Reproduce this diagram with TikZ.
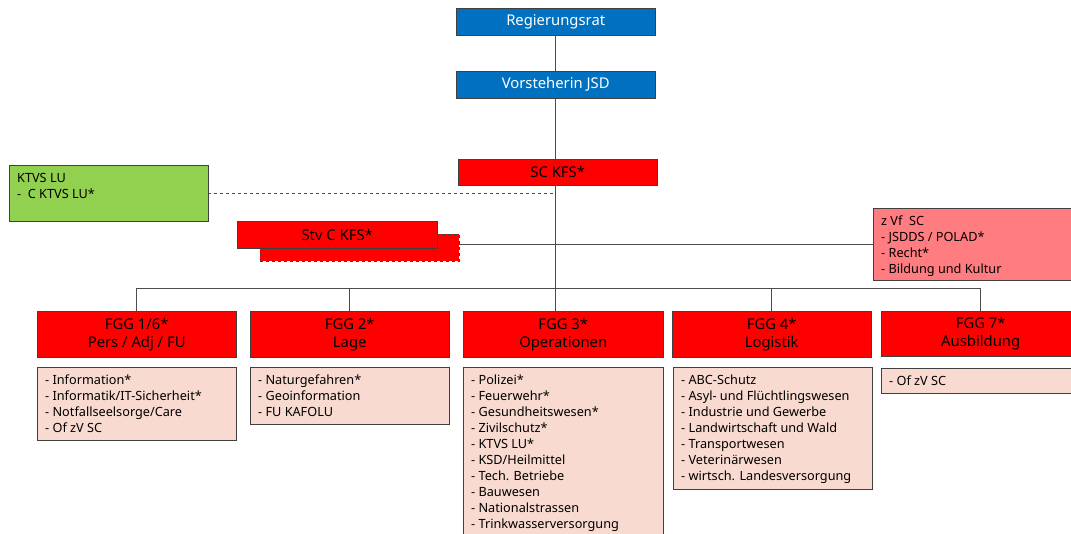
\documentclass[tikz,border=0pt]{standalone}
\usepackage{fontspec}
\setmainfont{Noto Sans}
\usepackage{tikz}
\usetikzlibrary{calc,shapes}
\definecolor{jsdblue}{HTML}{0070C0}
\definecolor{kfsred}{HTML}{FF0000}
\definecolor{ktvsgreen}{HTML}{92D050}
\definecolor{zvfpink}{HTML}{FF7C80}
\definecolor{listpink}{HTML}{F8DAD0}
\definecolor{framegray}{HTML}{404040}
\tikzstyle{headbox}=[rectangle,draw=framegray,anchor=north west,inner sep=0pt,
                     minimum width=199pt,minimum height=27pt,align=center,
                     font=\fontsize{14.8}{18}\selectfont]
\tikzstyle{bluebox}=[headbox,fill=jsdblue,text=white]
\tikzstyle{redbox}=[headbox,fill=kfsred]
\tikzstyle{fggbox}=[redbox,minimum height=46pt]
\tikzstyle{listbox}=[rectangle,draw=framegray,fill=listpink,anchor=north west,
                     inner xsep=8pt,inner ysep=6pt,
                     font=\fontsize{12.7}{16}\selectfont]
\tikzstyle{orgline}=[draw=black!70,line width=0.8pt]
\newcommand\nodelabel[2]{#1 \\ #2}
\newcommand\listlabel[3][183pt]{\parbox[c][#2][t]{#1}{\raggedright\strut #3}}
\newcommand\fggtop{311}
\newcommand\listtop{367}

\begin{document}
\begin{tikzpicture}[x=1pt,y=-1pt]
    \useasboundingbox (0,0) rectangle (1071,533);
    % Leitung
    \node [bluebox] (Regierungsrat) at (456,8) {Regierungsrat};
    \node [bluebox] (Vorsteherin) at (456,71) {Vorsteherin JSD};
    \node [redbox,minimum height=26pt] (SCKFS) at (458,159) {SC KFS*};
    \node [listbox,fill=ktvsgreen] (KTVS) at (9,165) {
        \listlabel{44pt}{KTVS LU\\ -\ \ C KTVS LU*}
    };
    \node [redbox,dashed,inner sep=0pt] (StvSchatten) at (260,234) {};
    \node [redbox,minimum width=200pt] (StvCKFS) at (237,221) {Stv C KFS*};
    \node [listbox,fill=zvfpink] (ZVfSC) at (873,208) {
        \listlabel{60pt}{z Vf\ \ SC\\ - JSDDS / POLAD*\\ - Recht*\\ - Bildung und Kultur}
    };
    % Fuehrungsgrundgebiete
    \node [fggbox] (FGG1) at ($(37,\fggtop)$) {\nodelabel{FGG 1/6*}{Pers / Adj / FU}};
    \node [fggbox] (FGG2) at ($(250,\fggtop)$) {\nodelabel{FGG 2*}{Lage}};
    \node [fggbox,minimum width=200pt] (FGG3) at ($(463,\fggtop)$) {\nodelabel{FGG 3*}{Operationen}};
    \node [fggbox] (FGG4) at ($(672,\fggtop)$) {\nodelabel{FGG 4*}{Logistik}};
    \node [fggbox,minimum height=45pt] (FGG7) at ($(881,\fggtop)$) {\nodelabel{FGG 7*}{Ausbildung}};
    % Listen
    \node [listbox] (Liste1) at ($(37,\listtop)$) {
        \listlabel{61pt}{- Information*\\ - Informatik/IT-Sicherheit*\\ - Notfallseelsorge/Care\\ - Of zV SC}
    };
    \node [listbox] (Liste2) at ($(250,\listtop)$) {
        \listlabel{45pt}{- Naturgefahren*\\ - Geoinformation\\ - FU KAFOLU}
    };
    \node [listbox] (Liste3) at ($(463,\listtop)$) {
        \listlabel[184pt]{175pt}{- Polizei*\\ - Feuerwehr*\\ - Gesundheitswesen*\\ - Zivilschutz*\\ - KTVS LU*\\ - KSD/Heilmittel\\ - Tech. Betriebe\\ - Bauwesen\\ - Nationalstrassen\\ - Trinkwasserversorgung}
    };
    \node [listbox] (Liste4) at ($(673,\listtop)$) {
        \listlabel{110pt}{- ABC-Schutz\\ - Asyl- und Flüchtlingswesen\\ - Industrie und Gewerbe\\ - Landwirtschaft und Wald\\ - Transportwesen\\ - Veterinärwesen\\ - wirtsch. Landesversorgung}
    };
    \node [listbox] (Liste7) at ($(881,\listtop+1)$) {
        \listlabel{13pt}{- Of zV SC}
    };
    % Verbindungen
    \draw [orgline] (Regierungsrat.south) -- (Vorsteherin.south |- Vorsteherin.north);
    \draw [orgline] (Vorsteherin.south) -- (Vorsteherin.south |- SCKFS.north);
    \draw [orgline] (Vorsteherin.south |- SCKFS.south) -- (Vorsteherin.south |- FGG3.north);
    \draw [orgline,dashed] (KTVS.east) -- (KTVS.east -| Vorsteherin.south);
    \draw [orgline] (ZVfSC.west) -- (ZVfSC.west -| StvSchatten.east);
    \draw [orgline] (FGG1.north) -- ++(0,-23) -| (FGG7.north);
    \draw [orgline] (FGG2.north) -- ++(0,-23);
    \draw [orgline] (FGG4.north) -- ++(0,-23);
\end{tikzpicture}
\end{document}
